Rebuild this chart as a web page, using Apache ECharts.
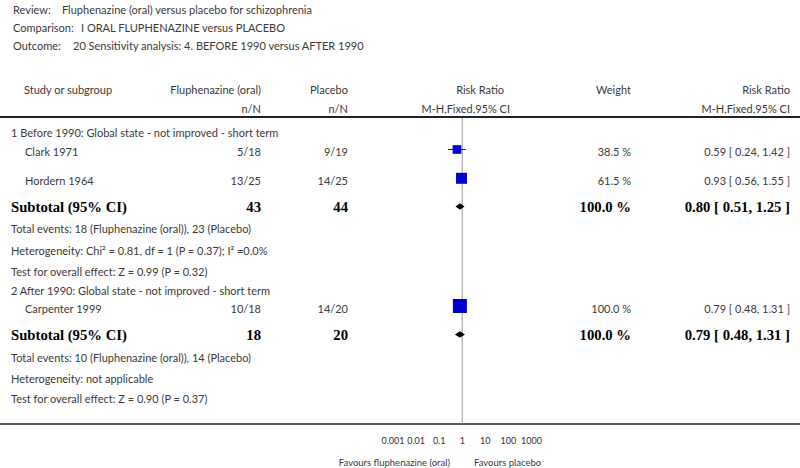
<!DOCTYPE html>
<html>
<head>
<meta charset="utf-8">
<script src="https://cdn.jsdelivr.net/npm/echarts@6/dist/echarts.min.js"></script>
<style>html,body{margin:0;padding:0;background:#fff}#c{width:800px;height:468px}</style>
</head>
<body>
<div id="c"></div>
<script>
// ---- data ----
const reviewTitle = 'Fluphenazine (oral) versus placebo for schizophrenia';
const comparisonTitle = 'I ORAL FLUPHENAZINE versus PLACEBO';
const outcomeTitle = '20 Sensitivity analysis: 4. BEFORE 1990 versus AFTER 1990';
const groupTitles = ['1 Before 1990: Global state - not improved - short term', '2 After 1990: Global state - not improved - short term'];
const studyNames = ['Clark 1971', 'Hordern 1964', 'Carpenter 1999'];
const studyGroup = [0, 0, 1];
const trtEvents = [5, 13, 10];
const trtTotal = [18, 25, 18];
const ctlEvents = [9, 14, 14];
const ctlTotal = [19, 25, 20];
const studyWeight = [38.5, 61.5, 100.0];
const studyRR = [0.59, 0.93, 0.79];
const studyLo = [0.24, 0.56, 0.48];
const studyHi = [1.42, 1.55, 1.31];
const subTrtN = [43, 18];
const subCtlN = [44, 20];
const subWeight = [100.0, 100.0];
const subRR = [0.80, 0.79];
const subLo = [0.51, 0.48];
const subHi = [1.25, 1.31];
const totalEventsText = ['Total events: 18 (Fluphenazine (oral)), 23 (Placebo)', 'Total events: 10 (Fluphenazine (oral)), 14 (Placebo)'];
const heteroText = ['Heterogeneity: Chi\u00B2 = 0.81, df = 1 (P = 0.37); I\u00B2 =0.0%', 'Heterogeneity: not applicable'];
const testText = ['Test for overall effect: Z = 0.99 (P = 0.32)', 'Test for overall effect: Z = 0.90 (P = 0.37)'];
const tickValues = [0.001, 0.01, 0.1, 1, 10, 100, 1000];
const tickLabels = ['0.001', '0.01', '0.1', '1', '10', '100', '1000'];
const favoursLeft = 'Favours fluphenazine (oral)';
const favoursRight = 'Favours placebo';

// ---- layout ----
const W = 800, AXIS_Y = 424;
const studyRowY = [149.5, 178.3, 306];
const subRowY = [206.5, 334.5];
const groupRowY = [132, 290];
const totRowY = [228, 357.5];
const hetRowY = [250, 378];
const testRowY = [271, 398.5];
const colTrt = 261, colCtl = 348, colW = 631, colCI = 790;
const F = '"Lato", "Open Sans", sans-serif';
const FS = 11;
const TXT = '#3a3a3a';
const BOLD = 'bold 14.7px "Liberation Serif", "DejaVu Serif", serif';

function fmt2(v) { return v.toFixed(2); }
function ciText(r, l, h) { return fmt2(r) + ' [ ' + fmt2(l) + ', ' + fmt2(h) + ' ]'; }

const g = [];
function txt(x, y, s, align, font, color) {
  g.push({ type: 'text', x: x, y: y, silent: true,
    style: { text: s, x: 0, y: 0, textAlign: align || 'left', textVerticalAlign: 'middle',
      font: font || (FS + 'px ' + F), fill: color || TXT } });
}
// titles
txt(13, 9, 'Review:'); txt(62, 9, reviewTitle);
txt(13, 27, 'Comparison:'); txt(81, 27, comparisonTitle);
txt(13, 45, 'Outcome:'); txt(73, 45, outcomeTitle);
// headers
txt(24, 89, 'Study or subgroup');
txt(colTrt, 89, 'Fluphenazine (oral)', 'right');
txt(colCtl, 89, 'Placebo', 'right');
txt(504, 89, 'Risk Ratio', 'right');
txt(colW, 89, 'Weight', 'right');
txt(colCI, 89, 'Risk Ratio', 'right');
txt(colTrt, 108, 'n/N', 'right');
txt(colCtl, 108, 'n/N', 'right');
txt(510, 108, 'M-H,Fixed,95% CI', 'right');
txt(colCI, 108, 'M-H,Fixed,95% CI', 'right');
// groups
for (let k = 0; k < 2; k++) {
  txt(11, groupRowY[k], groupTitles[k]);
  txt(11, subRowY[k] + 0.5, 'Subtotal (95% CI)', 'left', BOLD, '#000');
  txt(colTrt, subRowY[k] + 0.5, String(subTrtN[k]), 'right', BOLD, '#000');
  txt(colCtl, subRowY[k] + 0.5, String(subCtlN[k]), 'right', BOLD, '#000');
  txt(colW, subRowY[k] + 0.5, subWeight[k].toFixed(1) + ' %', 'right', BOLD, '#000');
  txt(colCI, subRowY[k] + 0.5, ciText(subRR[k], subLo[k], subHi[k]), 'right', BOLD, '#000');
  txt(11, totRowY[k], totalEventsText[k]);
  txt(11, hetRowY[k], heteroText[k]);
  txt(11, testRowY[k], testText[k]);
}
for (let i = 0; i < studyNames.length; i++) {
  const y = studyRowY[i] + 2;
  txt(25, y, studyNames[i]);
  txt(colTrt, y, trtEvents[i] + '/' + trtTotal[i], 'right');
  txt(colCtl, y, ctlEvents[i] + '/' + ctlTotal[i], 'right');
  txt(colW, y, studyWeight[i].toFixed(1) + ' %', 'right');
  txt(colCI, y, ciText(studyRR[i], studyLo[i], studyHi[i]), 'right');
}
txt(450, 462, favoursLeft, 'right', '9.5px ' + F);
txt(474, 462, favoursRight, 'left', '9.5px ' + F);
// rules
g.push({ type: 'line', silent: true, shape: { x1: 0, y1: 117, x2: W, y2: 117 }, style: { stroke: '#222', lineWidth: 2 } });
g.push({ type: 'line', silent: true, shape: { x1: 0, y1: AXIS_Y, x2: W, y2: AXIS_Y }, style: { stroke: '#222', lineWidth: 1.5 } });

const studyData = studyNames.map((n, i) => [studyRR[i], studyLo[i], studyHi[i], studyRowY[i], studyWeight[i]]);
const subData = subRR.map((r, k) => [r, subLo[k], subHi[k], subRowY[k]]);

const chart = echarts.init(document.getElementById('c'), null, { renderer: 'svg' });
chart.setOption({
  animation: false,
  grid: { left: 393, right: W - 531.5, top: 0, bottom: 468 - AXIS_Y, containLabel: false },
  xAxis: {
    type: 'log', logBase: 10, min: 0.001, max: 1000,
    axisLine: { show: false },
    axisTick: { show: true, inside: true, length: 4, lineStyle: { color: '#222', width: 1 } },
    splitLine: { show: false },
    axisLabel: { margin: 12, fontSize: 9, fontFamily: 'Lato', color: '#333',
      formatter: v => { const i = tickValues.findIndex(t => Math.abs(Math.log10(t) - Math.log10(v)) < 1e-6); return i >= 0 ? tickLabels[i] : ''; } }
  },
  yAxis: { type: 'value', min: 0, max: AXIS_Y, inverse: true, show: false },
  series: [
    { type: 'line', data: [[1, 118], [1, AXIS_Y]], symbol: 'none', silent: true, z: 1,
      lineStyle: { color: '#999', width: 1 } },
    { type: 'custom', z: 3, silent: true, data: studyData,
      renderItem: (params, api) => {
        const y = api.value(3);
        const c = api.coord([api.value(0), y]);
        const l = api.coord([api.value(1), y]);
        const h = api.coord([api.value(2), y]);
        const s = 1.4 * Math.sqrt(api.value(4));
        return { type: 'group', children: [
          { type: 'line', shape: { x1: l[0], y1: c[1], x2: h[0], y2: c[1] }, style: { stroke: '#222', lineWidth: 1 } },
          { type: 'rect', shape: { x: c[0] - s / 2, y: c[1] - s / 2, width: s, height: s }, style: { fill: '#0000cc' } }
        ] };
      } },
    { type: 'custom', z: 3, silent: true, data: subData,
      renderItem: (params, api) => {
        const y = api.value(3);
        const c = api.coord([api.value(0), y]);
        const l = api.coord([api.value(1), y]);
        const h = api.coord([api.value(2), y]);
        return { type: 'polygon', shape: { points: [[l[0], c[1]], [c[0], c[1] - 3.2], [h[0], c[1]], [c[0], c[1] + 3.2]] },
          style: { fill: '#000' } };
      } }
  ],
  graphic: g
});
</script>
</body>
</html>
